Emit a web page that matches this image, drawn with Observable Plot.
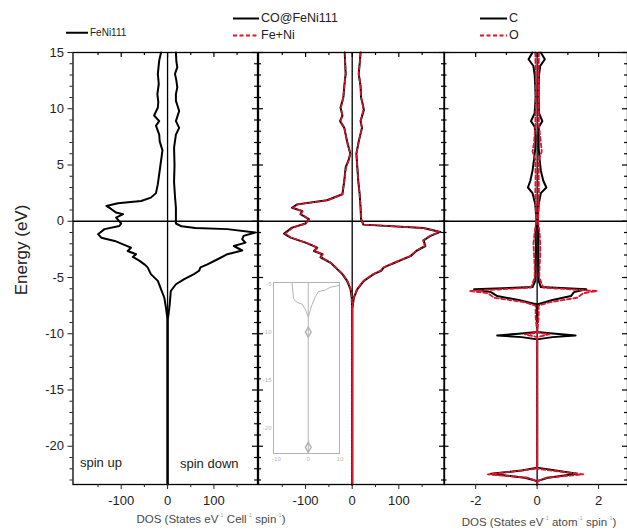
<!DOCTYPE html>
<html><head><meta charset="utf-8">
<script src="https://cdn.jsdelivr.net/npm/d3@7"></script>
<script src="https://cdn.jsdelivr.net/npm/@observablehq/plot@0.6"></script>
<style>
html,body{margin:0;padding:0;background:#fff;overflow:hidden}
#wrap{position:relative;width:627px;height:532px;font-family:"Liberation Sans",Arial,sans-serif;color:#333;overflow:hidden}
#wrap svg.pl{position:absolute;left:0;top:0}
.t{position:absolute;white-space:nowrap;line-height:1}
.t sup{font-size:6px;color:#aaa;vertical-align:6px}
</style></head><body><div id="wrap"></div>
<script>
// ---------- data (energy eV, DOS) ----------
const yMajor = [15, 10, 5, 0, -5, -10, -15, -20];
const yMinor = d3.range(-23, 16).filter(v => v % 5 !== 0);
const xMajorCell = [-100, 0, 100];
const xMinorCell = [-150, -50, 50, 150];
const xMajorAtom = [-2, 0, 2];
const xMinorAtom = [-1, 1];

const feniUp = [[15,-14],[14.3,-18],[13.1,-21],[12.2,-19],[11.3,-22],[10.6,-20],[10.1,-21],[9.4,-29],[8.9,-18],[8.5,-25],[7.7,-18],[7.1,-17],[6.3,-11],[5.4,-14],[4.2,-18],[3.3,-21],[2.5,-25],[2.1,-36],[1.8,-57],[1.6,-107],[1.36,-132],[1.07,-121],[0.77,-111],[0.63,-96],[0.32,-111],[-0.2,-100],[-0.42,-104],[-0.7,-136],[-1.15,-150],[-1.46,-143],[-1.75,-114],[-2.05,-96],[-2.35,-79],[-2.64,-86],[-2.93,-68],[-3.17,-75],[-3.5,-61],[-3.83,-50],[-4.1,-43],[-4.7,-36],[-5.3,-21],[-6.05,-14],[-6.8,-7],[-7.65,-3.6],[-8.3,-1.5],[-8.8,0],[-23.4,0]];
const feniDown = [[15,18],[14.2,19],[13.7,21],[13.1,16],[12.5,19],[11.9,21],[11.3,18],[10.7,18],[10.2,22],[9.8,25],[8.9,18],[8.3,25],[7.7,18],[6.55,14],[5,15],[3.5,14],[2.2,16],[1.2,18],[0.5,18],[-0.2,18],[-0.45,30],[-0.6,60],[-0.7,129],[-1.0,189],[-1.3,164],[-1.6,161],[-1.9,168],[-2.2,143],[-2.6,161],[-2.93,129],[-3.4,107],[-3.83,86],[-4.1,71],[-4.4,68],[-4.7,57],[-5.15,36],[-5.6,18],[-6.2,7],[-7.4,4.6],[-8.3,2],[-8.8,0],[-23.4,0]];

const coUp = [[15,-16],[14,-15],[13.1,-14],[12,-17],[11,-19],[10.1,-25],[9.4,-21],[8.9,-26],[8.3,-17],[7.1,-11],[6.0,-4],[5.4,-8],[4.8,-14],[3.6,-17],[2.4,-21],[1.87,-54],[1.5,-118],[1.2,-129],[0.9,-107],[0.63,-111],[0.18,-93],[-0.2,-100],[-0.57,-129],[-1.1,-146],[-1.46,-132],[-1.9,-100],[-2.35,-75],[-2.64,-82],[-2.93,-64],[-3.2,-68],[-3.7,-46],[-4.1,-36],[-4.7,-21],[-5.3,-11],[-6.05,-3.6],[-6.8,-1],[-7.8,0],[-23.4,0]];
const coDown = [[15,18],[14,16],[13.1,14],[12,18],[11,19],[10.5,22],[9.9,25],[8.9,18],[8.3,21],[7.1,14],[6.0,9],[4.8,11],[3.6,13],[2.4,16],[1.2,18],[0.2,19],[-0.3,24],[-0.6,153],[-0.95,189],[-1.3,168],[-1.7,153],[-2.2,157],[-2.6,139],[-3.1,125],[-3.6,96],[-4.1,68],[-4.4,62],[-4.7,46],[-5.3,25],[-6.05,10.7],[-6.8,3.6],[-7.8,0],[-23.4,0]];
const fenUp = [[15,-15],[14,-15],[13.1,-14],[12,-17],[11,-19],[10.1,-24],[9.4,-21],[8.9,-25],[8.3,-17],[7.1,-11],[6.0,-4],[5.4,-8],[4.8,-13],[3.6,-17],[2.4,-21],[1.87,-52],[1.5,-116],[1.2,-127],[0.9,-106],[0.63,-110],[0.18,-92],[-0.2,-99],[-0.57,-127],[-1.1,-144],[-1.46,-131],[-1.9,-99],[-2.35,-74],[-2.64,-81],[-2.93,-63],[-3.2,-67],[-3.7,-45],[-4.1,-35],[-4.7,-20],[-5.3,-10],[-6.05,-3],[-6.8,-0.8],[-7.8,0],[-23.4,0]];
const fenDown = [[15,18],[14,16],[13.1,14],[12,18],[11,19],[10.5,22],[9.9,24],[8.9,18],[8.3,21],[7.1,14],[6.0,9],[4.8,11],[3.6,13],[2.4,16],[1.2,18],[0.2,19],[-0.3,24],[-0.6,151],[-0.95,187],[-1.3,167],[-1.7,152],[-2.2,156],[-2.6,138],[-3.1,124],[-3.6,95],[-4.1,67],[-4.4,61],[-4.7,45],[-5.3,24],[-6.05,10],[-6.8,3.2],[-7.8,0],[-23.4,0]];

const cUp = [[15,-0.15],[14.4,-0.28],[13.8,-0.12],[13,-0.08],[12,-0.06],[11,-0.05],[9.6,-0.08],[8.9,-0.2],[8.4,-0.08],[7.5,-0.05],[6.5,-0.06],[5.5,-0.1],[4.5,-0.15],[3.6,-0.22],[3.0,-0.3],[2.5,-0.15],[1.5,-0.06],[0,-0.02],[-1,-0.05],[-2.5,-0.04],[-4,-0.05],[-5.3,-0.06],[-5.85,-0.15],[-6.05,-2.05],[-6.3,-1.5],[-6.65,-1.3],[-7.0,-0.6],[-7.4,0],[-9.85,0],[-10.0,-0.6],[-10.15,-1.3],[-10.3,-0.5],[-10.5,0],[-21.9,0],[-22.15,-0.5],[-22.45,-1.5],[-22.8,-0.4],[-23.1,0],[-23.4,0]];
const cDown = [[15,0.12],[14.4,0.25],[13.8,0.1],[13,0.06],[12,0.05],[11,0.05],[9.6,0.06],[8.9,0.17],[8.4,0.06],[7.5,0.05],[6.5,0.05],[5.5,0.08],[4.5,0.12],[3.6,0.2],[3.0,0.3],[2.5,0.12],[1.5,0.05],[0,0.02],[-1,0.04],[-2.5,0.04],[-4,0.04],[-5.3,0.05],[-5.85,0.12],[-6.05,1.6],[-6.3,1.2],[-6.65,1.1],[-7.0,0.5],[-7.4,0],[-9.85,0],[-10.0,0.6],[-10.15,1.25],[-10.3,0.5],[-10.5,0],[-21.9,0],[-22.15,0.6],[-22.45,1.3],[-22.8,0.35],[-23.1,0],[-23.4,0]];
const oUp = [[15,-0.06],[13.5,-0.05],[12,-0.04],[10,-0.05],[8.5,-0.06],[7,-0.1],[6.2,-0.15],[5.5,-0.06],[4,-0.05],[2.5,-0.06],[1,-0.04],[0,-0.03],[-1,-0.08],[-2,-0.12],[-3,-0.1],[-4,-0.08],[-5,-0.08],[-5.9,-0.2],[-6.2,-2.2],[-6.4,-1.6],[-6.8,-1.4],[-7.2,-0.4],[-7.5,-0.05],[-8.5,-0.05],[-9.9,0],[-10.05,-0.4],[-10.3,0],[-22.0,0],[-22.3,-1.0],[-22.5,-1.6],[-22.8,-0.3],[-23.1,0],[-23.4,0]];
const oDown = [[15,0.06],[13.5,0.05],[12,0.04],[10,0.05],[8.5,0.06],[7,0.12],[6.2,0.15],[5.5,0.06],[4,0.05],[2.5,0.06],[1,0.04],[0,0.03],[-1,0.08],[-2,0.1],[-3,0.1],[-4,0.08],[-5,0.07],[-5.9,0.2],[-6.2,1.95],[-6.4,1.5],[-6.8,1.3],[-7.2,0.4],[-7.5,0.05],[-8.5,0.05],[-9.9,0],[-10.05,0.4],[-10.3,0],[-22.0,0],[-22.3,0.9],[-22.5,1.5],[-22.8,0.3],[-23.1,0],[-23.4,0]];

// inset (zoom of the deep energy region)
const insetLeft = [[-4.8,-5.1],[-6.5,-4.6],[-6.9,-3.5],[-7.05,-2.0],[-7.6,-0.9],[-8.1,-0.4],[-8.4,0]];
const insetRight = [[-5.1,9.8],[-5.3,6.9],[-5.6,5.3],[-5.75,3.2],[-6.3,2.2],[-7.1,1.2],[-7.75,0.6],[-8.3,0.1]];
const insetPeaks = [[-10,0],[-22.05,0]];
const insetYTicks = [-5, -10, -15, -20];
const insetXTicks = [-10, 0, 10];

// ---------- layout ----------
const W = 627, H = 532, TOP = 52, BOTTOM = 484;
const RED = "#e0142e";
const rows = a => a.map(([e, d]) => ({e, d}));
const wrap = document.getElementById("wrap");
const baseStyle = {background: "transparent", overflow: "visible", fontFamily: "Liberation Sans, Arial, sans-serif", fontSize: "13px", color: "#222"};
const blank = () => "";

function panel({left, right, xDomain, xMajor, xMinor, leftLabels, series}) {
  const pw = right - left, ph = BOTTOM - TOP;
  const tk = {stroke: "#000", strokeWidth: 1.2};
  const marks = [
    Plot.ruleY([0], {stroke: "#000", strokeWidth: 1.3}),
    Plot.ruleX([0], {stroke: "#000", strokeWidth: 1.3}),
    ...series.map(s => Plot.line(rows(s.data), {x: "d", y: "e", stroke: s.color, strokeWidth: s.width, strokeDasharray: s.dash, curve: "linear"})),
    Plot.frame({stroke: "#000", strokeWidth: 1.3}),
    // bottom (outward) ticks with labels
    Plot.axisX({ticks: xMajor, anchor: "bottom", tickSize: 5, tickPadding: 6, tickFormat: d => String(d), label: null}),
    Plot.axisX({ticks: xMinor, anchor: "bottom", tickSize: 3, tickFormat: blank, label: null}),
    // top (inward) ticks
    Plot.tickX(xMajor, {x: d => d, insetBottom: ph - 5, ...tk}),
    Plot.tickX(xMinor, {x: d => d, insetBottom: ph - 3, ...tk}),
    // right (inward) ticks
    Plot.tickY(yMajor, {y: d => d, insetLeft: pw - 5, ...tk}),
    Plot.tickY(yMinor, {y: d => d, insetLeft: pw - 3, ...tk}),
    // left ticks
    ...(leftLabels
      ? [Plot.axisY({ticks: yMajor, anchor: "left", tickSize: 5, tickPadding: 4, tickFormat: d => String(d), label: null}),
         Plot.axisY({ticks: yMinor, anchor: "left", tickSize: 3, tickFormat: blank, label: null})]
      : [Plot.tickY(yMajor, {y: d => d, insetRight: pw - 5, ...tk}),
         Plot.tickY(yMinor, {y: d => d, insetRight: pw - 3, ...tk})])
  ];
  const svg = Plot.plot({
    width: W, height: H,
    marginLeft: left, marginRight: W - right, marginTop: TOP, marginBottom: H - BOTTOM,
    x: {domain: xDomain},
    y: leftLabels ? {domain: [-23.4, 15]} : {domain: [-23.4, 15], axis: null},
    style: baseStyle, marks
  });
  svg.classList.add("pl");
  wrap.appendChild(svg);
}

panel({left: 72.5, right: 257, xDomain: [-204, 194], xMajor: xMajorCell, xMinor: xMinorCell, leftLabels: true,
  series: [{data: feniUp, color: "#000", width: 2}, {data: feniDown, color: "#000", width: 2}]});
panel({left: 258, right: 444, xDomain: [-201, 198], xMajor: xMajorCell, xMinor: xMinorCell, leftLabels: false,
  series: [{data: coUp, color: "#000", width: 2}, {data: coDown, color: "#000", width: 2},
           {data: fenUp, color: RED, width: 1.6, dash: "4,2.5"}, {data: fenDown, color: RED, width: 1.6, dash: "4,2.5"}]});
panel({left: 443.5, right: 627, xDomain: [-3.03, 2.94], xMajor: xMajorAtom, xMinor: xMinorAtom, leftLabels: false,
  series: [{data: cUp, color: "#000", width: 2}, {data: cDown, color: "#000", width: 2},
           {data: oUp, color: RED, width: 1.8, dash: "4,2.5"}, {data: oDown, color: RED, width: 1.8, dash: "4,2.5"}]});

// inset
{
  const g = "#b4b4b4";
  const svg = Plot.plot({
    width: W, height: H, marginLeft: 273, marginRight: W - 339, marginTop: 282, marginBottom: H - 453,
    x: {domain: [-10.9, 9.8]}, y: {domain: [-22.7, -4.8]},
    style: {...baseStyle, fontSize: "6px", color: g},
    marks: [
      Plot.ruleX([0], {stroke: g}),
      Plot.line(rows(insetLeft), {x: "d", y: "e", stroke: g, strokeWidth: 1}),
      Plot.line(rows(insetRight), {x: "d", y: "e", stroke: g, strokeWidth: 1}),
      Plot.dot(rows(insetPeaks), {x: "d", y: "e", symbol: "diamond", r: 3, stroke: g}),
      Plot.frame({stroke: g}),
      Plot.axisX({ticks: insetXTicks, anchor: "bottom", tickSize: 0, tickPadding: 3, tickFormat: d => String(d), label: null, fill: g}),
      Plot.axisY({ticks: insetYTicks, anchor: "left", tickSize: 0, tickPadding: 2, tickFormat: d => String(d), label: null, fill: g})
    ]
  });
  svg.classList.add("pl");
  wrap.appendChild(svg);
}

// ---------- texts ----------
function addText(html, x, y, css) {
  const d = document.createElement("div");
  d.className = "t";
  d.innerHTML = html;
  d.style.left = x + "px";
  d.style.top = y + "px";
  Object.assign(d.style, css || {});
  wrap.appendChild(d);
  return d;
}
addText("Energy (eV)", 21, 250, {fontSize: "17px", color: "#222", transform: "translate(-50%,-50%) rotate(-90deg)"});
addText("DOS (States eV<sup>-1</sup> Cell<sup>-1</sup> spin<sup>-1</sup>)", 211, 519, {fontSize: "11.5px", color: "#4a4a4a", transform: "translate(-50%,-50%)"});
addText("DOS (States eV<sup>-1</sup> atom<sup>-1</sup> spin<sup>-1</sup>)", 539, 522, {fontSize: "11.5px", color: "#4a4a4a", transform: "translate(-50%,-50%)"});
addText("spin up", 80, 462, {fontSize: "13px", color: "#222", transform: "translateY(-50%)"});
addText("spin down", 180, 463, {fontSize: "13px", color: "#222", transform: "translateY(-50%)"});

function legend(x, y, len, label, color, dash, fs) {
  return addText(
    `<svg width="${len}" height="6" style="vertical-align:middle;margin-right:2px"><line x1="0" y1="3" x2="${len}" y2="3" stroke="${color}" stroke-width="2" ${dash ? `stroke-dasharray="${dash}"` : ""}/></svg><span style="vertical-align:middle">${label}</span>`,
    x, y, {fontSize: fs + "px", color: "#222", transform: "translateY(-50%)"});
}
legend(66, 33, 22, "FeNi111", "#000", null, 10);
legend(233, 18, 26, "CO@FeNi111", "#000", null, 12.5);
legend(233, 35, 26, "Fe+Ni", RED, "4,2.5", 12.5);
legend(480, 18, 27, "C", "#000", null, 12.5);
legend(480, 35, 27, "O", RED, "4,2.5", 12.5);
</script></body></html>
